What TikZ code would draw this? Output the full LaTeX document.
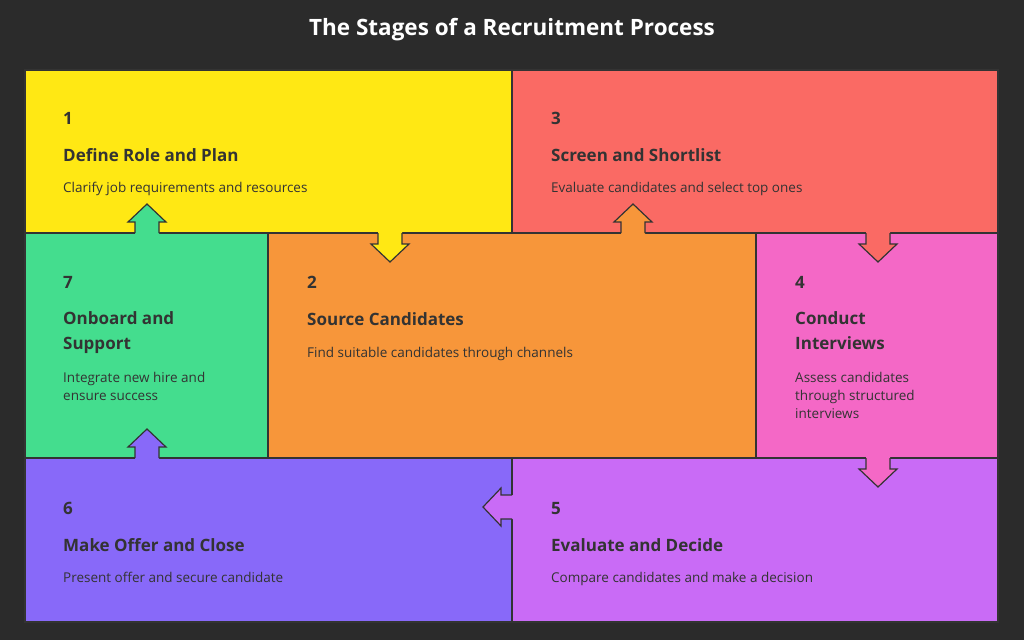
\documentclass[tikz,border=0pt]{standalone}
\usepackage{fontspec}
\setmainfont{Open Sans}
\begin{document}
\begin{tikzpicture}[x=1pt,y=-1pt,
  box/.style={draw=edge,line width=1.2pt,anchor=north west,inner sep=0pt,outer sep=0pt},
  num/.style={anchor=base west,font=\bfseries\fontsize{17}{20}\selectfont,text=txt,inner sep=0pt},
  head/.style={anchor=base west,font=\bfseries\fontsize{17}{25}\selectfont,text=txt,inner sep=0pt,align=left},
  desc/.style={anchor=base west,font=\fontsize{13.5}{18}\selectfont,text=txt,inner sep=0pt,align=left},
  pics/arr/.style={code={
    \fill[#1] (-12,-4) -- (-12,11) -- (-19,11) -- (0,29) -- (19,11) -- (12,11) -- (12,-4) -- cycle;
    \draw[edge,line width=1.2pt,line join=miter] (-12,0) -- (-12,11) -- (-19,11) -- (0,29) -- (19,11) -- (12,11) -- (12,0);
  }}]
\definecolor{bg}{HTML}{2B2B2B}
\definecolor{edge}{HTML}{333333}
\definecolor{txt}{HTML}{333333}
\definecolor{cY}{HTML}{FFE814}
\definecolor{cR}{HTML}{FA6A64}
\definecolor{cO}{HTML}{F7963A}
\definecolor{cG}{HTML}{44DD8E}
\definecolor{cP}{HTML}{F468C6}
\definecolor{cV}{HTML}{C96BF6}
\definecolor{cB}{HTML}{8869F9}
\fill[bg] (0,0) rectangle (1024,640);
\useasboundingbox (0,0) rectangle (1024,640);
\node[text=white,font=\bfseries\fontsize{22.5}{26}\selectfont] (title) at (512,30) {The Stages of a Recruitment Process};
\node[box,fill=cY,minimum width=487pt,minimum height=163pt] (b1) at (25,70) {};
\node[box,fill=cR,minimum width=486pt,minimum height=163pt] (b3) at (512,70) {};
\node[box,fill=cG,minimum width=243pt,minimum height=225pt] (b7) at (25,233) {};
\node[box,fill=cO,minimum width=488pt,minimum height=225pt] (b2) at (268,233) {};
\node[box,fill=cP,minimum width=242pt,minimum height=225pt] (b4) at (756,233) {};
\node[box,fill=cB,minimum width=487pt,minimum height=164pt] (b6) at (25,458) {};
\node[box,fill=cV,minimum width=486pt,minimum height=164pt] (b5) at (512,458) {};
% arrows
\pic at (390,233) {arr=cY};
\pic[rotate=180] at (633,233) {arr=cO};
\pic at (878,233) {arr=cR};
\pic at (878,458) {arr=cP};
\pic[rotate=-90] at (512,507) {arr=cV};
\pic[rotate=180] at (147,458) {arr=cB};
\pic[rotate=180] at (147,233) {arr=cG};
% texts
\node[num] (n1) at (63,124) {1};
\node[head] (h1) at (63,161) {Define Role and Plan};
\node[desc] (d1) at (63,192) {Clarify job requirements and resources};
\node[num] (n3) at (551,124) {3};
\node[head] (h3) at (551,161) {Screen and Shortlist};
\node[desc] (d3) at (551,192) {Evaluate candidates and select top ones};
\node[num] (n7) at (63,288) {7};
\node[head] (h7) at (63,349) {Onboard and\\Support};
\node[desc] (d7) at (63,400) {Integrate new hire and\\ensure success};
\node[num] (n2) at (307,288) {2};
\node[head] (h2) at (307,325) {Source Candidates};
\node[desc] (d2) at (307,357) {Find suitable candidates through channels};
\node[num] (n4) at (795,288) {4};
\node[head] (h4) at (795,349) {Conduct\\Interviews};
\node[desc] (d4) at (795,418) {Assess candidates\\through structured\\interviews};
\node[num] (n6) at (63,514) {6};
\node[head] (h6) at (63,551) {Make Offer and Close};
\node[desc] (d6) at (63,582) {Present offer and secure candidate};
\node[num] (n5) at (551,514) {5};
\node[head] (h5) at (551,551) {Evaluate and Decide};
\node[desc] (d5) at (551,582) {Compare candidates and make a decision};
\end{tikzpicture}
\end{document}
